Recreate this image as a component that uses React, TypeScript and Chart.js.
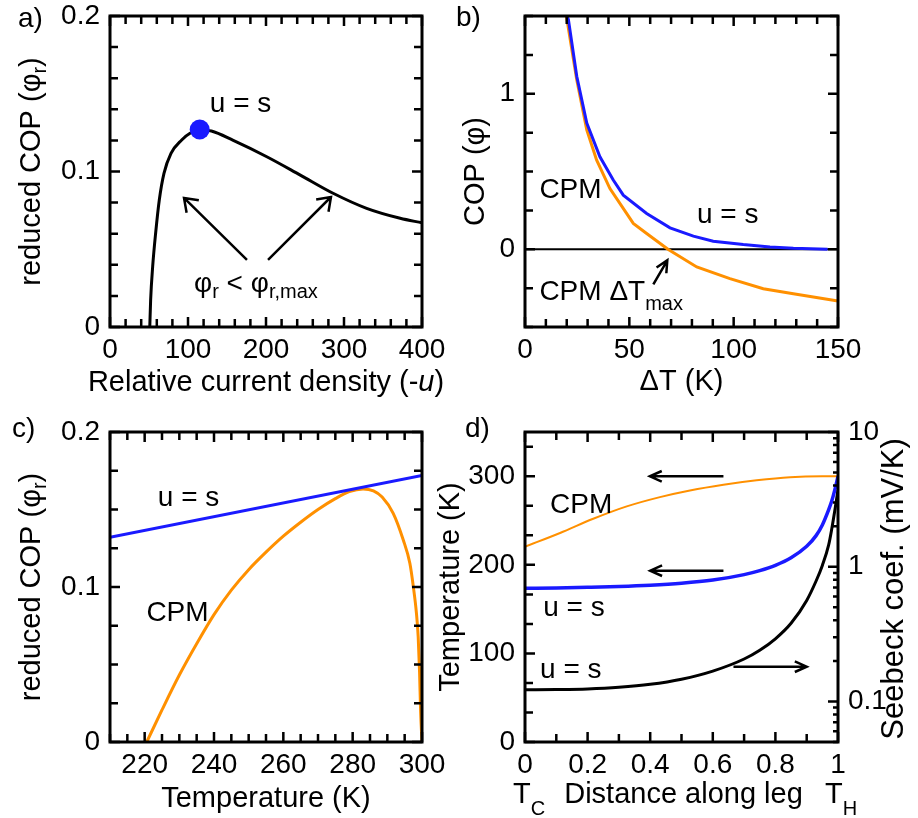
import { useEffect, useRef } from "react";
import { Chart, registerables } from "chart.js";

Chart.register(...registerables);

const FONT = '"Liberation Sans", Arial, Helvetica, sans-serif';
const FS = 28;
const FS_TITLE = 29;
const SUB_FS = 20;
const BLUE = "#1a1aff";
const ORANGE = "#ff9000";
const W = 918;
const H = 818;

// ---------- a) reduced COP vs relative current density ----------
const aCurrent = [51, 52.1, 54.7, 58.5, 63.2, 69.2, 78.2, 91.9, 102.6, 115, 130, 158, 201, 244, 286, 329, 372, 400];
const aReducedCOP = [0, 0.0174, 0.0388, 0.0603, 0.0817, 0.0988, 0.1117, 0.1203, 0.1246, 0.1267, 0.126, 0.12, 0.1095, 0.0977, 0.086, 0.0763, 0.0699, 0.067];
const aPeakCurrent = [115];
const aPeakCOP = [0.127];
const aXMajor = [0, 100, 200, 300, 400];
const aYMajor = [0, 0.1, 0.2];

// ---------- b) COP vs ΔT ----------
const bDeltaTUs = [19.6, 20.8, 24.8, 29.6, 35.9, 42.3, 47.1, 58.3, 69.5, 80.7, 90.2, 104.6, 117.4, 128.6, 145];
const bCOPUs = [1.52, 1.477, 1.112, 0.811, 0.595, 0.445, 0.348, 0.23, 0.138, 0.084, 0.052, 0.03, 0.015, 0.006, 0.0];
const bDeltaTCPM = [19.6, 24.8, 29.6, 34.3, 40.7, 51.9, 58.3, 68.5, 82.3, 98.2, 114.2, 128.6, 148.5, 150];
const bCOPCPM = [1.52, 1.09, 0.768, 0.574, 0.39, 0.166, 0.101, 0.0, -0.114, -0.189, -0.254, -0.286, -0.329, -0.333];
const bZeroX = [0, 150];
const bZeroY = [0, 0];
const bXMajor = [0, 50, 100, 150];
const bYMajor = [0, 1];

// ---------- c) reduced COP vs temperature ----------
const cTempUs = [210, 300];
const cReducedUs = [0.132, 0.172];
const cTempCPM = [220.6, 225, 230, 235, 240, 245, 250, 255, 260, 265, 270, 275, 279, 283, 286, 288.5, 291.7, 294.6, 296.5, 297.5, 298.4, 298.9, 299.3, 299.6, 300];
const cReducedCPM = [0, 0.0207, 0.0432, 0.0634, 0.0822, 0.098, 0.1112, 0.1225, 0.1328, 0.1418, 0.15, 0.157, 0.1615, 0.1633, 0.162, 0.158, 0.1475, 0.1303, 0.1153, 0.1002, 0.083, 0.0679, 0.045, 0.02, 0];
const cXMajor = [220, 240, 260, 280, 300];
const cYMajor = [0, 0.1, 0.2];

// ---------- d) profiles along the leg ----------
const dPosCPM = [0, 0.112, 0.218, 0.325, 0.431, 0.527, 0.634, 0.74, 0.847, 0.95, 1];
const dTempCPM = [220.5, 236, 252, 266, 276.5, 284, 290.5, 295.5, 299, 300, 300];
const dPosUs = [0, 0.1, 0.2, 0.3, 0.4, 0.5, 0.6, 0.7, 0.75, 0.8, 0.85, 0.9, 0.93, 0.95, 0.97, 0.98, 0.99, 1];
const dTempUs = [173.5, 174, 174.7, 175.6, 177, 179.2, 182.8, 189, 193.5, 199.5, 208, 221, 233, 245, 262, 272, 285, 300];
const dPosSeebeck = [0, 0.1, 0.2, 0.3, 0.4, 0.5, 0.6, 0.7, 0.75, 0.8, 0.85, 0.9, 0.93, 0.95, 0.97, 0.98, 0.99, 1];
const dSeebeck = [0.1219, 0.1225, 0.1239, 0.1274, 0.134, 0.1462, 0.1679, 0.2065, 0.2399, 0.2917, 0.3802, 0.5623, 0.7834, 1.023, 1.445, 1.905, 2.63, 3.715];
const dXMajor = [0, 0.2, 0.4, 0.6, 0.8, 1];
const dYMajor = [0, 100, 200, 300];
const dY2Major = [0.1, 1, 10];

// ---------- annotations (data coordinates: left x, baseline y) ----------
type Seg = { t: string; sub?: boolean; it?: boolean; dy?: number };
const aNotes = [
  { x: 128, y: 0.1383, segs: [{ t: "u = s" }] },
  { x: 107.7, y: 0.0225, segs: [{ t: "φ" }, { t: "r", sub: true }, { t: " < φ" }, { t: "r,max", sub: true }] },
];
const aArrows = [
  { x1: 175.6, y1: 0.0431, x2: 94.9, y2: 0.083 },
  { x1: 202.6, y1: 0.0431, x2: 283.3, y2: 0.0836 },
];
const bNotes = [
  { x: 6.9, y: 0.329, segs: [{ t: "CPM" }] },
  { x: 82.4, y: 0.17, segs: [{ t: "u = s" }] },
  { x: 6.9, y: -0.329, segs: [{ t: "CPM ΔT" }, { t: "max", sub: true, dy: 10 }] },
];
const bArrows = [{ x1: 61.5, y1: -0.226, x2: 68.2, y2: -0.071 }];
const cNotes = [
  { x: 223.8, y: 0.1523, segs: [{ t: "u = s" }] },
  { x: 220.5, y: 0.078, segs: [{ t: "CPM" }] },
];
const dNotes = [
  { x: 0.08, y: 258.5, segs: [{ t: "CPM" }] },
  { x: 0.058, y: 142.3, segs: [{ t: "u = s" }] },
  { x: 0.048, y: 72.3, segs: [{ t: "u = s" }] },
];
const dArrows = [
  { x1: 0.634, y1: 300, x2: 0.399, y2: 300 },
  { x1: 0.634, y1: 193.4, x2: 0.4, y2: 193.4 },
  { x1: 0.666, y1: 85, x2: 0.9, y2: 85 },
];

// ---------- helpers ----------
function segFont(s: Seg, size: number) {
  return `${s.it ? "italic " : ""}${s.sub ? SUB_FS : size}px ${FONT}`;
}

function drawRich(ctx: any, segs: Seg[], x: number, y: number, align = "left", rot = false, size = FS) {
  ctx.save();
  ctx.translate(x, y);
  if (rot) ctx.rotate(-Math.PI / 2);
  ctx.fillStyle = "#000";
  ctx.textAlign = "left";
  ctx.textBaseline = "alphabetic";
  let w = 0;
  for (const s of segs) {
    ctx.font = segFont(s, size);
    w += ctx.measureText(s.t).width;
  }
  let cx = align === "center" ? -w / 2 : 0;
  for (const s of segs) {
    ctx.font = segFont(s, size);
    ctx.fillText(s.t, cx, s.sub ? (s.dy ?? 5.5) : 0);
    cx += ctx.measureText(s.t).width;
  }
  ctx.restore();
}

function drawArrow(ctx: any, x1: number, y1: number, x2: number, y2: number, len: number, half: number) {
  const a = Math.atan2(y2 - y1, x2 - x1);
  ctx.save();
  ctx.strokeStyle = "#000";
  ctx.lineWidth = 2.5;
  ctx.lineJoin = "miter";
  ctx.beginPath();
  ctx.moveTo(x1, y1);
  ctx.lineTo(x2, y2);
  ctx.moveTo(x2 - len * Math.cos(a - half), y2 - len * Math.sin(a - half));
  ctx.lineTo(x2, y2);
  ctx.lineTo(x2 - len * Math.cos(a + half), y2 - len * Math.sin(a + half));
  ctx.stroke();
  ctx.restore();
}

function drawNotes(chart: any, notes: any[], yId = "y") {
  for (const n of notes) {
    const px = chart.scales.x.getPixelForValue(n.x);
    const py = chart.scales[yId].getPixelForValue(n.y);
    drawRich(chart.ctx, n.segs, px, py, "left");
  }
}

function drawArrows(chart: any, arrows: any[], len: number, half: number) {
  const sx = chart.scales.x;
  const sy = chart.scales.y;
  for (const a of arrows) {
    drawArrow(chart.ctx, sx.getPixelForValue(a.x1), sy.getPixelForValue(a.y1), sx.getPixelForValue(a.x2), sy.getPixelForValue(a.y2), len, half);
  }
}

function drawFrame(chart: any, mirrorY: boolean) {
  const ctx = chart.ctx;
  const ca = chart.chartArea;
  ctx.save();
  ctx.strokeStyle = "#000";
  ctx.lineWidth = 2.5;
  ctx.beginPath();
  for (const id of Object.keys(chart.scales)) {
    const s = chart.scales[id];
    const log = s.type === "logarithmic";
    for (const t of s.ticks) {
      const p = s.getPixelForValue(t.value);
      const major = !!t.label;
      const len = major ? 10 : log ? 5 : 8;
      if (s.isHorizontal()) {
        ctx.moveTo(p, ca.bottom);
        ctx.lineTo(p, ca.bottom - len);
        ctx.moveTo(p, ca.top);
        ctx.lineTo(p, ca.top + len);
      } else if (s.position === "left") {
        ctx.moveTo(ca.left, p);
        ctx.lineTo(ca.left + len, p);
        if (mirrorY) {
          ctx.moveTo(ca.right, p);
          ctx.lineTo(ca.right - len, p);
        }
      } else {
        ctx.moveTo(ca.right, p);
        ctx.lineTo(ca.right - len, p);
      }
    }
  }
  ctx.stroke();
  ctx.lineWidth = 3;
  ctx.strokeRect(ca.left, ca.top, ca.right - ca.left, ca.bottom - ca.top);
  ctx.restore();
}

function linTicks(min: number, max: number, step: number) {
  const out: number[] = [];
  const n = Math.round((max - min) / step);
  for (let i = 0; i <= n; i++) {
    const v = +(min + i * step).toFixed(10);
    if (v <= max + 1e-9) out.push(v);
  }
  return out;
}

function logTicks(min: number, max: number) {
  const out: number[] = [];
  for (let e = -3; e <= 3; e++) {
    for (let k = 1; k <= 9; k++) {
      const v = +(k * Math.pow(10, e)).toPrecision(6);
      if (v >= min - 1e-12 && v <= max + 1e-12) out.push(v);
    }
  }
  return out;
}

function axis(pos: string, min: number, max: number, values: number[], majors: number[], size: number, pad: number, type = "linear") {
  return {
    type,
    position: pos,
    min,
    max,
    grid: { display: false, drawTicks: false },
    border: { display: false },
    title: { display: false },
    ticks: {
      autoSkip: false,
      maxRotation: 0,
      minRotation: 0,
      padding: pad,
      color: "#000",
      font: { family: FONT, size: FS },
      callback: (v: number) => {
        const m = majors.find((q) => Math.abs(q - v) < 1e-9);
        return m === undefined ? "" : String(m);
      },
    },
    afterBuildTicks: (s: any) => {
      s.ticks = values.map((v) => ({ value: v }));
    },
    afterFit: (s: any) => {
      if (pos === "left" || pos === "right") s.width = size;
      else s.height = size;
      s.paddingLeft = 0;
      s.paddingRight = 0;
      s.paddingTop = 0;
      s.paddingBottom = 0;
    },
  };
}

function series(xs: number[], ys: number[], color: string, width: number, smooth: boolean, yAxisID = "y") {
  return {
    data: xs.map((x, i) => ({ x, y: ys[i] })),
    borderColor: color,
    backgroundColor: color,
    borderWidth: width,
    showLine: true,
    pointRadius: 0,
    tension: 0,
    cubicInterpolationMode: smooth ? "monotone" : "default",
    yAxisID,
  };
}

const YW = 90;
const XH = 70;
const Y2W = 70;

function padFor(l: number, t: number, r: number, b: number, right: boolean) {
  return { left: l - YW, top: t, right: W - r - (right ? Y2W : 0), bottom: H - b - XH };
}

function make(canvas: HTMLCanvasElement, datasets: any[], scales: any, padding: any, deco: (c: any) => void, mirrorY: boolean) {
  return new Chart(canvas, {
    type: "scatter",
    data: { datasets },
    options: {
      responsive: false,
      maintainAspectRatio: false,
      animation: false,
      devicePixelRatio: 1,
      events: [],
      layout: { padding },
      plugins: { legend: { display: false }, tooltip: { enabled: false }, title: { display: false } },
      scales,
    } as any,
    plugins: [
      {
        id: "deco",
        afterDraw(chart: any) {
          drawFrame(chart, mirrorY);
          deco(chart);
        },
      },
    ],
  } as any);
}

function chartA(cv: HTMLCanvasElement) {
  return make(
    cv,
    [
      { data: aPeakCurrent.map((x, i) => ({ x, y: aPeakCOP[i] })), pointRadius: 10, pointBackgroundColor: BLUE, pointBorderWidth: 0, showLine: false },
      series(aCurrent, aReducedCOP, "#000", 3, true),
    ],
    {
      x: axis("bottom", 0, 400, linTicks(0, 400, 20), aXMajor, XH, 6),
      y: axis("left", 0, 0.2, linTicks(0, 0.2, 0.02), aYMajor, YW, 10),
    },
    padFor(110, 16, 422, 327, false),
    (c) => {
      const ca = c.chartArea;
      const ctx = c.ctx;
      drawRich(ctx, [{ t: "a)" }], ca.left - 92, ca.top + 11);
      drawRich(ctx, [{ t: "reduced COP (φ" }, { t: "r", sub: true }, { t: ")" }], ca.left - 70, (ca.top + ca.bottom) / 2, "center", true, FS_TITLE);
      drawRich(ctx, [{ t: "Relative current density (-" }, { t: "u", it: true }, { t: ")" }], (ca.left + ca.right) / 2, ca.bottom + 64, "center", false, FS_TITLE);
      drawNotes(c, aNotes);
      drawArrows(c, aArrows, 15, 0.62);
    },
    true
  );
}

function chartB(cv: HTMLCanvasElement) {
  return make(
    cv,
    [
      series(bDeltaTUs, bCOPUs, BLUE, 3, false),
      series(bDeltaTCPM, bCOPCPM, ORANGE, 3, false),
      series(bZeroX, bZeroY, "#000", 2, false),
    ],
    {
      x: axis("bottom", 0, 150, linTicks(0, 150, 10), bXMajor, XH, 6),
      y: axis("left", -0.5, 1.5, linTicks(-0.5, 1.5, 0.25), bYMajor, YW, 10),
    },
    padFor(525, 16, 838, 327, false),
    (c) => {
      const ca = c.chartArea;
      const ctx = c.ctx;
      drawRich(ctx, [{ t: "b)" }], ca.left - 69, ca.top + 10);
      drawRich(ctx, [{ t: "COP (φ)" }], ca.left - 41, (ca.top + ca.bottom) / 2, "center", true, FS_TITLE);
      drawRich(ctx, [{ t: "ΔT (K)" }], (ca.left + ca.right) / 2, ca.bottom + 63, "center", false, FS_TITLE);
      drawNotes(c, bNotes);
      drawArrows(c, bArrows, 13, 0.45);
    },
    true
  );
}

function chartC(cv: HTMLCanvasElement) {
  return make(
    cv,
    [series(cTempUs, cReducedUs, BLUE, 3, false), series(cTempCPM, cReducedCPM, ORANGE, 3, true)],
    {
      x: axis("bottom", 210, 300, linTicks(210, 300, 5), cXMajor, XH, 6),
      y: axis("left", 0, 0.2, linTicks(0, 0.2, 0.025), cYMajor, YW, 10),
    },
    padFor(110, 432, 422, 742, false),
    (c) => {
      const ca = c.chartArea;
      const ctx = c.ctx;
      drawRich(ctx, [{ t: "c)" }], ca.left - 98, ca.top + 5);
      drawRich(ctx, [{ t: "reduced COP (φ" }, { t: "r", sub: true }, { t: ")" }], ca.left - 70, (ca.top + ca.bottom) / 2, "center", true, FS_TITLE);
      drawRich(ctx, [{ t: "Temperature (K)" }], (ca.left + ca.right) / 2, ca.bottom + 65, "center", false, FS_TITLE);
      drawNotes(c, cNotes);
    },
    true
  );
}

function chartD(cv: HTMLCanvasElement) {
  return make(
    cv,
    [
      series(dPosUs, dTempUs, BLUE, 3.5, true),
      series(dPosSeebeck, dSeebeck, "#000", 3, true, "y2"),
      series(dPosCPM, dTempCPM, ORANGE, 2, true),
    ],
    {
      x: axis("bottom", 0, 1, linTicks(0, 1, 0.1), dXMajor, XH, 6),
      y: axis("left", 0, 350, linTicks(0, 350, 100 / 3), dYMajor, YW, 10),
      y2: axis("right", 0.05, 10, logTicks(0.05, 10), dY2Major, Y2W, 10, "logarithmic"),
    },
    padFor(525, 432, 838, 742, true),
    (c) => {
      const ca = c.chartArea;
      const ctx = c.ctx;
      drawRich(ctx, [{ t: "d)" }], ca.left - 60, ca.top + 5);
      drawRich(ctx, [{ t: "Temperature (K)" }], ca.left - 66, (ca.top + ca.bottom) / 2, "center", true, FS_TITLE);
      drawRich(ctx, [{ t: "Seebeck coef. (mV/K)" }], ca.right + 65, (ca.top + ca.bottom) / 2 + 2, "center", true, 31);
      drawRich(ctx, [{ t: "T" }, { t: "C", sub: true, dy: 12 }], ca.left - 12, ca.bottom + 61, "left", false, FS_TITLE);
      drawRich(ctx, [{ t: "Distance along leg" }], (ca.left + ca.right) / 2 + 2, ca.bottom + 61, "center", false, FS_TITLE);
      drawRich(ctx, [{ t: "T" }, { t: "H", sub: true, dy: 12 }], ca.right - 13, ca.bottom + 61, "left", false, FS_TITLE);
      drawNotes(c, dNotes);
      drawArrows(c, dArrows, 13, 0.42);
    },
    false
  );
}

export default function App() {
  const r0 = useRef<HTMLCanvasElement>(null);
  const r1 = useRef<HTMLCanvasElement>(null);
  const r2 = useRef<HTMLCanvasElement>(null);
  const r3 = useRef<HTMLCanvasElement>(null);

  useEffect(() => {
    const charts = [chartA(r0.current!), chartB(r1.current!), chartC(r2.current!), chartD(r3.current!)];
    return () => charts.forEach((c) => c.destroy());
  }, []);

  const cs: any = { position: "absolute", left: 0, top: 0, width: W, height: H };
  return (
    <div style={{ position: "absolute", left: 0, top: 0, width: W, height: H, background: "#fff" }}>
      <canvas ref={r0} width={W} height={H} style={cs} />
      <canvas ref={r1} width={W} height={H} style={cs} />
      <canvas ref={r2} width={W} height={H} style={cs} />
      <canvas ref={r3} width={W} height={H} style={cs} />
    </div>
  );
}
